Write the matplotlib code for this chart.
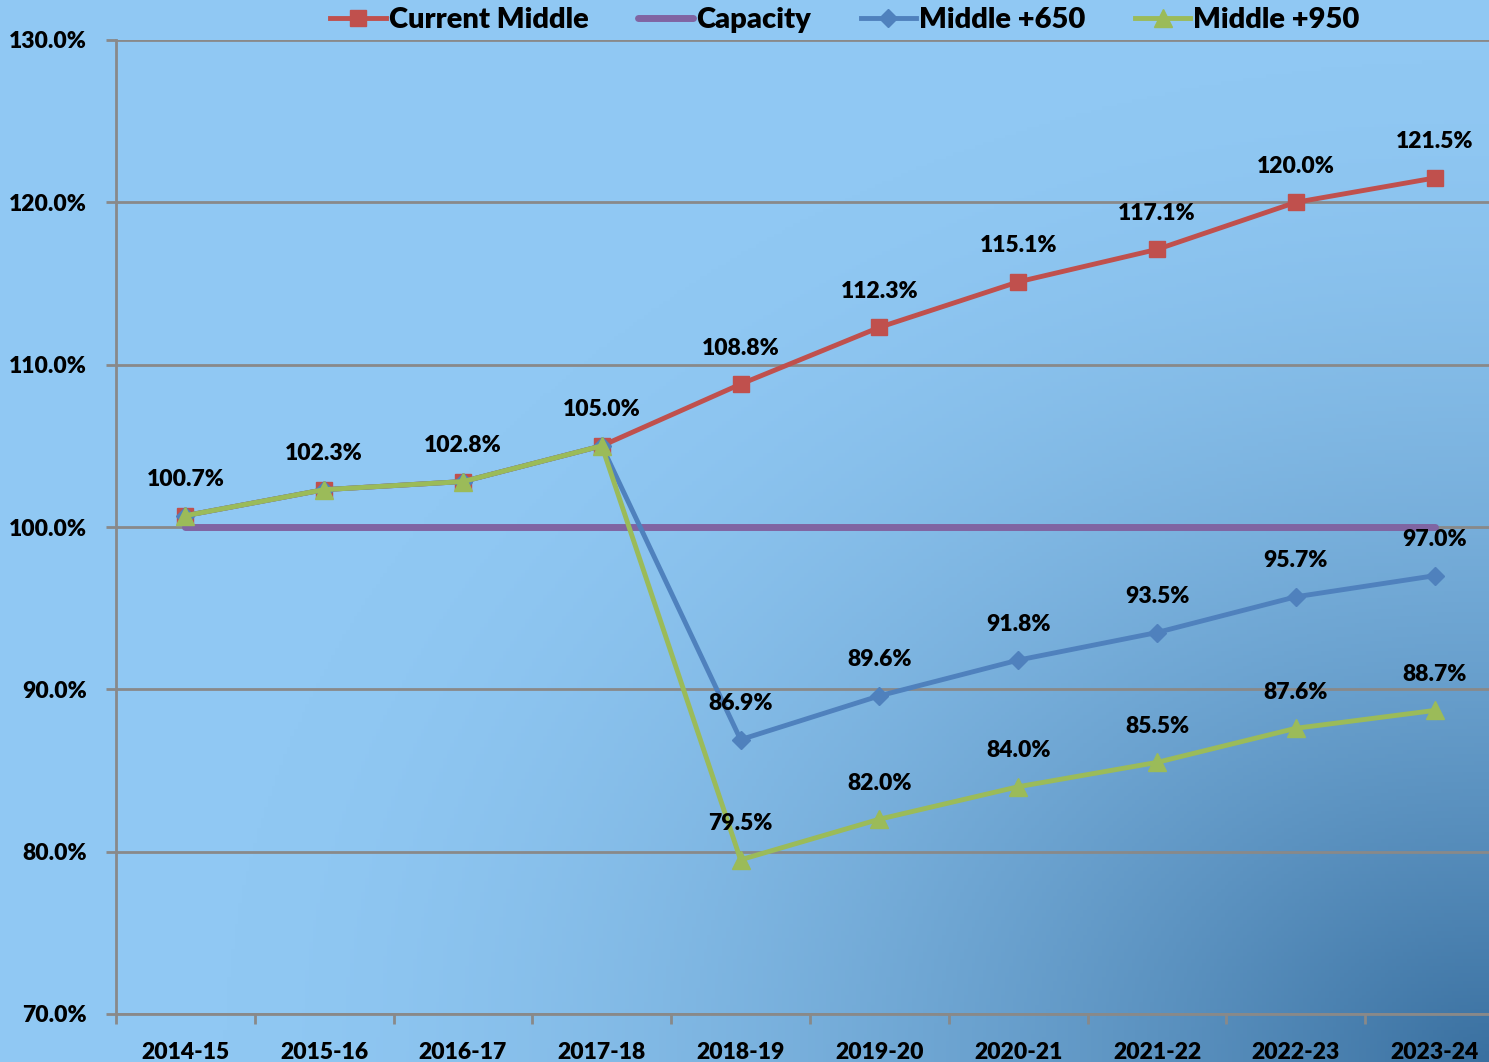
import numpy as np
import matplotlib as mpl
import matplotlib.pyplot as plt

mpl.use('Agg')

"""
Enrollment vs capacity projection for the middle school options.
"""

years = ["2014-15", "2015-16", "2016-17", "2017-18", "2018-19",
         "2019-20", "2020-21", "2021-22", "2022-23", "2023-24"]
current_middle = [100.7, 102.3, 102.8, 105.0, 108.8, 112.3, 115.1, 117.1, 120.0, 121.5]
capacity = [100.0] * 10
middle_650 = [100.7, 102.3, 102.8, 105.0, 86.9, 89.6, 91.8, 93.5, 95.7, 97.0]
middle_950 = [100.7, 102.3, 102.8, 105.0, 79.5, 82.0, 84.0, 85.5, 87.6, 88.7]

plt.rcParams['font.family'] = ['Lato', 'DejaVu Sans']
plt.rcParams['font.weight'] = 'heavy'

W, H = 1489, 1062
fig = plt.figure(figsize=(W / 100, H / 100), dpi=100)

# Background gradient: light blue, darker toward the bottom-right corner
bg = fig.add_axes([0, 0, 1, 1], zorder=-10)
yy, xx = np.mgrid[0:1:300j, 0:1:400j]
r = np.sqrt(((1 - xx) * 1.0) ** 2 + ((1 - yy) * 0.9) ** 2)
t = np.clip(1 - r / 0.85, 0, 1) ** 1.6
light = np.array([0x90, 0xC8, 0xF3]) / 255
dark = np.array([0x3A, 0x70, 0xA0]) / 255
img = light[None, None, :] * (1 - t[..., None]) + dark[None, None, :] * t[..., None]
bg.imshow(img, extent=[0, 1, 0, 1], aspect='auto', origin='upper')
bg.set_xlim(0, 1)
bg.set_ylim(0, 1)
bg.axis('off')

ax = fig.add_axes([116 / W, 1 - 1014 / H, 1388 / W, 974 / H])
ax.patch.set_alpha(0)

x = np.arange(len(years))
ax.plot(x, current_middle, color='#C0504D', lw=3.5, marker='s', ms=12,
        label='Current Middle', zorder=3)
ax.plot(x, capacity, color='#8064A2', lw=5, solid_capstyle='round',
        label='Capacity', zorder=3)
ax.plot(x, middle_650, color='#4F81BD', lw=3.5, marker='D', ms=9,
        label='Middle +650', zorder=4)
ax.plot(x, middle_950, color='#9BBB59', lw=3.5, marker='^', ms=13,
        label='Middle +950', zorder=5)

lab_kw = dict(ha='center', va='center', fontsize=16.5, fontweight='heavy',
              color='black', textcoords='offset points', zorder=6)
for i, v in enumerate(current_middle):
    ax.annotate(f"{v:.1f}%", (x[i], v), xytext=(0, 26), **lab_kw)
for series in (middle_650, middle_950):
    for i, v in enumerate(series):
        if i >= 4:
            ax.annotate(f"{v:.1f}%", (x[i], v), xytext=(0, 26), **lab_kw)

ax.set_xlim(-0.5, len(years) - 0.5)
ax.set_ylim(70, 130)
ax.set_yticks(np.arange(70, 131, 10))
ax.set_yticklabels([f"{v:.1f}%" for v in np.arange(70, 131, 10)],
                   fontsize=16.5, fontweight='heavy')
ax.set_xticks(x)
ax.set_xticklabels(years, fontsize=16.5, fontweight='heavy')
ax.set_xticks(np.arange(-0.5, len(years), 1), minor=True)
ax.tick_params(axis='x', which='major', length=0, pad=20)
ax.tick_params(axis='x', which='minor', length=7, width=2, color='#898989')
ax.tick_params(axis='y', length=7, width=2, color='#898989', pad=14)
ax.yaxis.grid(True, color='#898989', lw=2)
ax.set_axisbelow(True)
for s in ['top', 'right']:
    ax.spines[s].set_visible(False)
for s in ['left', 'bottom']:
    ax.spines[s].set_color('#898989')
    ax.spines[s].set_linewidth(2)

leg = fig.legend(loc='center', bbox_to_anchor=(845 / W, 1 - 20 / H), ncol=4,
                 frameon=False, prop={'size': 21, 'weight': 'heavy'},
                 handlelength=1.9, handletextpad=0.1, columnspacing=1.7,
                 borderpad=0)

fig.savefig('out.png', dpi=100)
plt.close()
